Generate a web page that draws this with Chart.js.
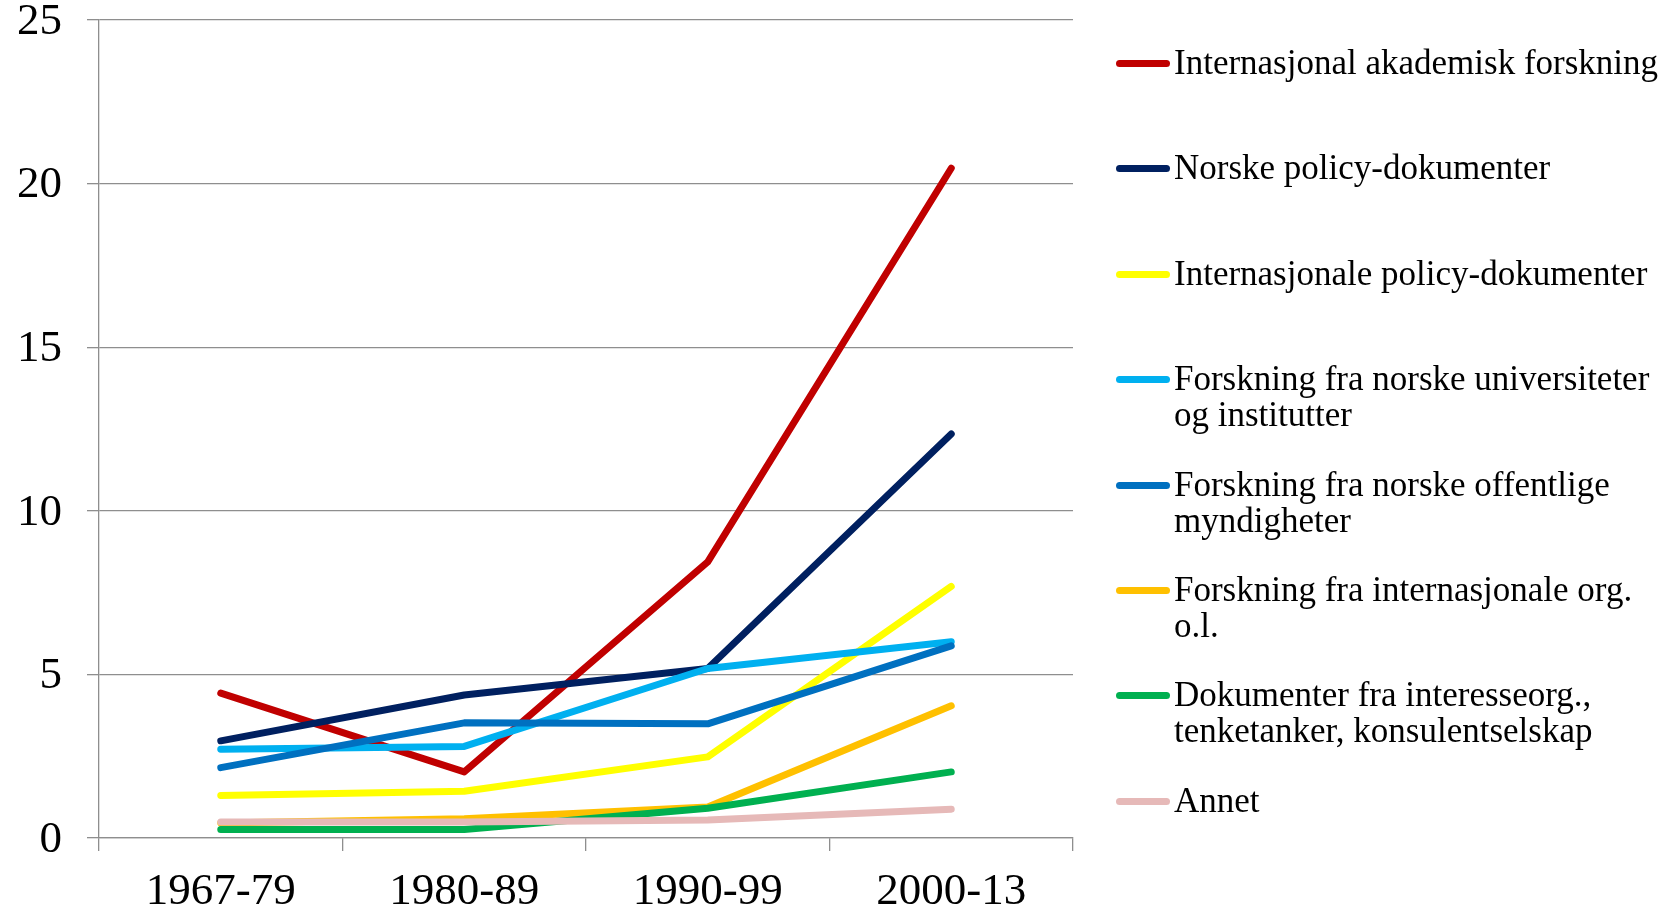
<!DOCTYPE html>
<html>
<head>
<meta charset="utf-8">
<script src="https://cdn.jsdelivr.net/npm/chart.js@4.4.1/dist/chart.umd.min.js"></script>
<style>
    body { margin: 0; background: #fff; }
    #wrap { position: relative; width: 1671px; height: 909px; }
    #legend { position: absolute; left: 0; top: 0; font-family: "Liberation Serif", serif; font-size: 35px; color: #000; }
    .item { position: absolute; left: 1116px; white-space: pre; line-height: 36px; }
    .stub { position: absolute; left: 0; top: 15px; width: 54px; height: 7px; border-radius: 3.5px; }
    .txt { position: absolute; left: 58px; top: 0; }
</style>
</head>
<body>
<div id="wrap">
    <canvas id="chart" width="1671" height="909"></canvas>
    <div id="legend"></div>
</div>
<script>
const periods = ['1967-79', '1980-89', '1990-99', '2000-13'];

const seriesNames = [
    'Internasjonal akademisk forskning',
    'Norske policy-dokumenter',
    'Internasjonale policy-dokumenter',
    'Forskning fra norske universiteter\nog institutter',
    'Forskning fra norske offentlige\nmyndigheter',
    'Forskning fra internasjonale org.\no.l.',
    'Dokumenter fra interesseorg.,\ntenketanker, konsulentselskap',
    'Annet'
];

const seriesColors = ['#C00000', '#002060', '#FFFF00', '#00B0F0', '#0070C0', '#FFC000', '#00B050', '#E6B9B8'];

const intAkademisk = [4.43, 2.02, 8.44, 20.47];
const norskePolicy = [2.97, 4.37, 5.18, 12.35];
const intPolicy = [1.30, 1.43, 2.48, 7.69];
const norskeUniv = [2.71, 2.80, 5.18, 6.00];
const norskeOffentlige = [2.15, 3.52, 3.49, 5.87];
const intOrg = [0.46, 0.59, 0.95, 4.04];
const interesseorg = [0.26, 0.26, 0.91, 2.02];
const annet = [0.49, 0.49, 0.55, 0.88];

const seriesValues = [intAkademisk, norskePolicy, intPolicy, norskeUniv, norskeOffentlige, intOrg, interesseorg, annet];

const gridColor = '#8e8e8e';
const tickFont = { family: 'Liberation Serif', size: 45 };

const datasets = seriesValues.map((vals, i) => ({
    label: seriesNames[i],
    data: vals,
    borderColor: seriesColors[i],
    backgroundColor: seriesColors[i],
    borderWidth: 7,
    borderCapStyle: 'round',
    borderJoinStyle: 'round',
    pointRadius: 0,
    tension: 0,
    order: seriesValues.length - i
}));

// no extra room for overflowing tick labels, the layout padding sets the plot box
const noOverflow = s => { s.paddingTop = 0; s.paddingBottom = 0; s.paddingLeft = 0; s.paddingRight = 0; };

const chart = new Chart(document.getElementById('chart').getContext('2d'), {
    type: 'line',
    data: { labels: periods, datasets: datasets },
    options: {
        responsive: false,
        animation: false,
        layout: { padding: { top: 20, right: 598, left: 0, bottom: 0 } },
        plugins: { legend: { display: false }, tooltip: { enabled: false } },
        scales: {
            x: {
                offset: true,
                grid: { offset: true, drawOnChartArea: false, tickLength: 13, color: gridColor, lineWidth: 1.3 },
                border: { color: gridColor, width: 1.3 },
                ticks: { font: tickFont, color: '#000', padding: 14, maxRotation: 0 },
                afterFit: s => { s.height = 71; noOverflow(s); }
            },
            y: {
                min: 0, max: 25,
                grid: { tickLength: 12, color: gridColor, lineWidth: 1.3 },
                border: { color: gridColor, width: 1.3 },
                ticks: { stepSize: 5, font: tickFont, color: '#000', padding: 25, labelOffset: 2 },
                afterFit: s => { s.width = 99; noOverflow(s); }
            }
        }
    }
});

// legend built from the datasets
const legend = document.getElementById('legend');
chart.data.datasets.forEach((ds, i) => {
    const item = document.createElement('div');
    item.className = 'item';
    item.style.top = (45 + i * 105.4) + 'px';
    item.innerHTML = `<div class="stub" style="background:${ds.borderColor}"></div><div class="txt"></div>`;
    item.querySelector('.txt').textContent = ds.label;
    legend.appendChild(item);
});
</script>
</body>
</html>
